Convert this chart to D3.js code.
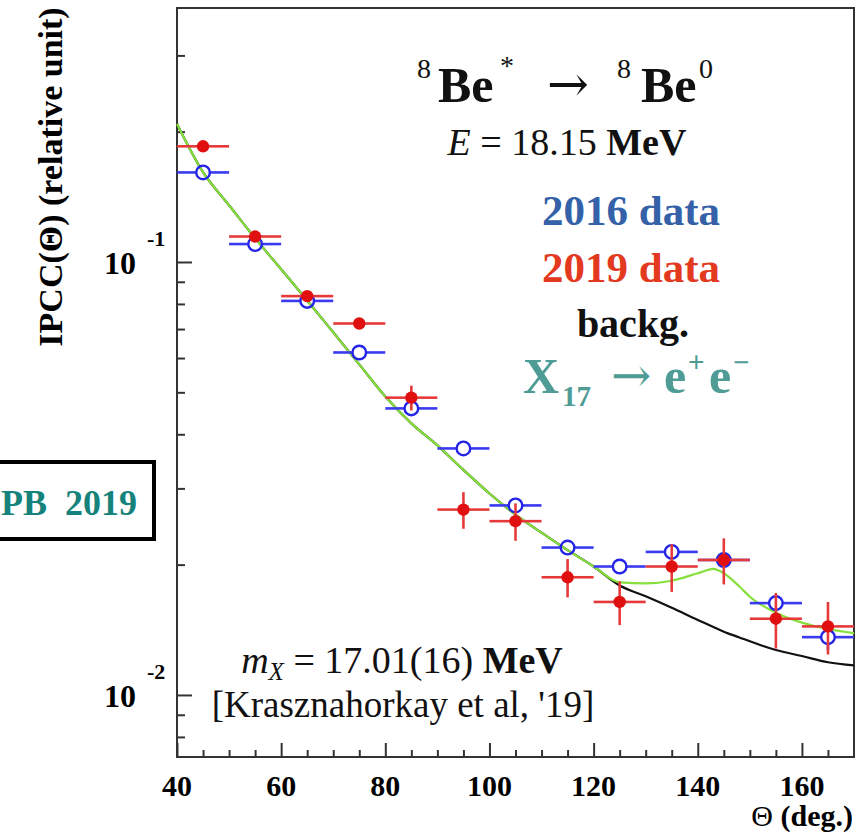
<!DOCTYPE html>
<html>
<head>
<meta charset="utf-8">
<script src="https://cdn.jsdelivr.net/npm/d3@7"></script>
<style>
  body { margin: 0; background: #fff; }
  svg { display: block; }
  text { font-family: "Liberation Serif", "Times New Roman", serif; }
</style>
</head>
<body>
<div id="chart"></div>
<script>
const theta = [45, 55, 65, 75, 85, 95, 105, 115, 125, 135, 145, 155, 165];
const binHalfWidth = 5;
const ipcc2016 = [0.161, 0.110, 0.0813, 0.0618, 0.0459, 0.0371, 0.0274, 0.0219, 0.0198, 0.0214, 0.0205, 0.0163, 0.0136];
const err2016  = [0.0025, 0.0018, 0.0013, 0.0010, 0.0008, 0.0006, 0.0005, 0.0005, 0.0004, 0.0006, 0.0006, 0.0007, 0.0009];
const ipcc2019 = [0.185, 0.1145, 0.0834, 0.0721, 0.0486, 0.0268, 0.0252, 0.0187, 0.0164, 0.0198, 0.0205, 0.0150, 0.0144];
const err2019  = [0.0022, 0.0023, 0.0017, 0.0014, 0.0032, 0.0026, 0.0025, 0.0019, 0.0019, 0.0025, 0.0025, 0.0022, 0.0020];

// fitted curves: background + X17 signal (green) and background only (black)
const curveTheta = [40, 45, 50, 55, 60, 65, 70, 75, 80, 85, 90, 95, 100, 105, 110, 115, 120,
                    125, 130, 135, 140, 143, 145, 148, 150, 155, 160, 165, 170];
const fitTotal = [0.2083, 0.1612, 0.1352, 0.1135, 0.0962, 0.0815, 0.0688, 0.0580, 0.0489, 0.0424,
                  0.0377, 0.0331, 0.0292, 0.0261, 0.0237, 0.0216, 0.0198,
                  0.0182, 0.0181, 0.01836, 0.0191, 0.01956, 0.0191, 0.0178, 0.01686, 0.01549, 0.01469, 0.0142, 0.0139];
const fitBackground = [0.2083, 0.1612, 0.1352, 0.1135, 0.0962, 0.0815, 0.0688, 0.0580, 0.0489, 0.0424,
                       0.0377, 0.0331, 0.0292, 0.0261, 0.0237, 0.0216, 0.0198,
                       0.0179, 0.0169, 0.0159, 0.0149, 0.01436, 0.0140, 0.01358, 0.0133, 0.0127, 0.0123, 0.0119, 0.0117];

const xMajorTicks = [40, 60, 80, 100, 120, 140, 160];
const xMinorTicks = [45, 50, 55, 65, 70, 75, 85, 90, 95, 105, 110, 115, 125, 130, 135, 145, 150, 155, 165];
const yDecades = [{ value: 0.1, exp: "-1" }, { value: 0.01, exp: "-2" }];

const red = "#e01010", redBar = "#e63a3a";
const blue = "#2424e6", blueBar = "#3a3af0";

const W = 864, H = 832;
const frame = { left: 177, right: 854, top: 8, bottom: 757 };

const svg = d3.select("#chart").append("svg")
    .attr("width", W).attr("height", H);

const x = d3.scaleLinear().domain([40, 170]).range([frame.left, frame.right]);
const y = d3.scaleLog().domain([0.00719, 0.386]).range([frame.bottom, frame.top]);

// ---- frame & axes ----
const axisColor = "#333";
svg.append("rect")
    .attr("x", frame.left).attr("y", frame.top)
    .attr("width", frame.right - frame.left).attr("height", frame.bottom - frame.top)
    .attr("fill", "none").attr("stroke", axisColor).attr("stroke-width", 2);

const yTicks = y.ticks();
const isMajorY = v => Math.abs(Math.log10(v) - Math.round(Math.log10(v))) < 1e-6;

function styleAxis(g) {
    g.select(".domain").remove();
    g.selectAll("line").attr("stroke", axisColor).attr("stroke-width", 2);
}
svg.append("g").attr("transform", `translate(${frame.left},0)`)
    .call(d3.axisRight(y).tickValues(yTicks.filter(v => !isMajorY(v))).tickSize(8).tickFormat(""))
    .call(styleAxis);
svg.append("g").attr("transform", `translate(${frame.left},0)`)
    .call(d3.axisRight(y).tickValues(yTicks.filter(isMajorY)).tickSize(15).tickFormat(""))
    .call(styleAxis);

svg.append("g").attr("transform", `translate(0,${frame.bottom})`)
    .call(d3.axisTop(x).tickValues(xMinorTicks).tickSize(7).tickFormat(""))
    .call(styleAxis);
svg.append("g").attr("transform", `translate(0,${frame.bottom})`)
    .call(d3.axisTop(x).tickValues(xMajorTicks).tickSize(14).tickFormat(""))
    .call(styleAxis);

// x tick labels
svg.append("g").selectAll("text")
    .data(xMajorTicks).enter().append("text")
    .attr("x", d => x(d)).attr("y", frame.bottom + 39)
    .attr("text-anchor", "middle")
    .attr("font-size", 30).attr("font-weight", "bold")
    .text(d => d);

// y tick labels: 10^-1, 10^-2
const yLab = svg.append("g").selectAll("g").data(yDecades).enter().append("g");
yLab.append("text")
    .attr("x", 136).attr("y", d => y(d.value) + 12)
    .attr("text-anchor", "end")
    .attr("font-size", 32).attr("font-weight", "bold")
    .text("10");
yLab.append("text")
    .attr("x", 147).attr("y", d => y(d.value) - 16)
    .attr("font-size", 22).attr("font-weight", "bold")
    .text(d => d.exp);

// axis titles
svg.append("text")
    .attr("transform", "translate(62,177) rotate(-90)")
    .attr("text-anchor", "middle")
    .attr("font-size", 34).attr("font-weight", "bold")
    .text("IPCC(Θ) (relative unit)");
const xTitle = svg.append("text")
    .attr("x", 853).attr("y", 826)
    .attr("text-anchor", "end")
    .attr("font-size", 30);
xTitle.append("tspan").text("Θ ");
xTitle.append("tspan").attr("font-weight", "bold").text("(deg.)");

// ---- curves ----
const line = (vals) => d3.line()
    .x((d, i) => x(curveTheta[i]))
    .y(d => y(d))
    .curve(d3.curveMonotoneX)(vals);

svg.append("path").attr("d", line(fitBackground))
    .attr("fill", "none").attr("stroke", "#111").attr("stroke-width", 2.2);
svg.append("path").attr("d", line(fitTotal))
    .attr("fill", "none").attr("stroke", "#86e03c").attr("stroke-width", 2.2);

// ---- data points ----
function drawSeries(vals, errs, barColor, markerColor, hollow) {
    const r = hollow ? 6.8 : 6.2;
    const pts = theta.map((t, i) => ({ t: t, v: vals[i], e: errs[i] }));
    const g = svg.append("g");
    const gap = hollow ? r : 0;
    // horizontal bars (bin width), with a gap for hollow markers
    g.selectAll(".hl").data(pts).enter().append("line")
        .attr("x1", d => x(d.t - binHalfWidth)).attr("x2", d => x(d.t) - gap)
        .attr("y1", d => y(d.v)).attr("y2", d => y(d.v))
        .attr("stroke", barColor).attr("stroke-width", 2.6);
    g.selectAll(".hr").data(pts).enter().append("line")
        .attr("x1", d => x(d.t) + gap).attr("x2", d => x(d.t + binHalfWidth))
        .attr("y1", d => y(d.v)).attr("y2", d => y(d.v))
        .attr("stroke", barColor).attr("stroke-width", 2.6);
    // vertical error bars
    g.selectAll(".vu").data(pts.filter(d => y(d.v) - y(d.v + d.e) > gap)).enter().append("line")
        .attr("x1", d => x(d.t)).attr("x2", d => x(d.t))
        .attr("y1", d => y(d.v + d.e)).attr("y2", d => y(d.v) - gap)
        .attr("stroke", barColor).attr("stroke-width", 2.6);
    g.selectAll(".vd").data(pts.filter(d => y(d.v - d.e) - y(d.v) > gap)).enter().append("line")
        .attr("x1", d => x(d.t)).attr("x2", d => x(d.t))
        .attr("y1", d => y(d.v) + gap).attr("y2", d => y(d.v - d.e))
        .attr("stroke", barColor).attr("stroke-width", 2.6);
    g.selectAll("circle").data(pts).enter().append("circle")
        .attr("cx", d => x(d.t)).attr("cy", d => y(d.v)).attr("r", r)
        .attr("fill", hollow ? "none" : markerColor)
        .attr("stroke", markerColor).attr("stroke-width", hollow ? 2.4 : 0);
}
drawSeries(ipcc2016, err2016, blueBar, blue, true);
drawSeries(ipcc2019, err2019, redBar, red, false);

// ---- annotations ----
function label(txt, px, py, size, opts) {
    opts = opts || {};
    const t = svg.append("text")
        .attr("x", px).attr("y", py)
        .attr("font-size", size)
        .attr("font-weight", opts.bold ? "bold" : "normal")
        .attr("font-style", opts.italic ? "italic" : "normal")
        .attr("fill", opts.color || "#111")
        .attr("text-anchor", opts.anchor || "start")
        .text(txt);
    if (opts.family) t.style("font-family", opts.family);
    return t;
}

// 8Be* -> 8Be0
label("8", 417, 78, 28);
label("Be", 438, 102, 50, { bold: true });
label("*", 500, 75, 28);
label("→", 547, 101, 50, { family: "DejaVu Serif" });
label("8", 617, 78, 28);
label("Be", 641, 102, 50, { bold: true });
label("0", 699, 78, 28);

// E = 18.15 MeV
const eLine = svg.append("text").attr("x", 567).attr("y", 155)
    .attr("text-anchor", "middle").attr("font-size", 38).attr("fill", "#111");
eLine.append("tspan").attr("font-style", "italic").text("E");
eLine.append("tspan").text(" = 18.15 ");
eLine.append("tspan").attr("font-weight", "bold").text("MeV");

label("2016 data", 631, 225, 43, { bold: true, color: "#3461a8", anchor: "middle" });
label("2019 data", 631, 282, 43, { bold: true, color: "#e2391f", anchor: "middle" });
label("backg.", 633, 337, 40, { bold: true, anchor: "middle" });

// X17 -> e+e-
const teal = "#4e9c95";
label("X", 523, 393, 50, { bold: true, color: teal });
label("17", 562, 406, 29, { bold: true, color: teal });
label("→", 611, 392, 48, { color: teal, family: "DejaVu Serif" });
label("e", 664, 393, 50, { bold: true, color: teal });
label("+", 688, 372, 29, { bold: true, color: teal });
label("e", 709, 393, 50, { bold: true, color: teal });
label("−", 733, 372, 29, { bold: true, color: teal });

// m_X = 17.01(16) MeV
const mLine = svg.append("text").attr("x", 402).attr("y", 673)
    .attr("text-anchor", "middle").attr("font-size", 38).attr("fill", "#111");
mLine.append("tspan").attr("font-style", "italic").text("m");
mLine.append("tspan").attr("font-style", "italic").attr("font-size", 25).attr("dy", 7).text("X");
mLine.append("tspan").attr("dy", -7).text(" = 17.01(16) ");
mLine.append("tspan").attr("font-weight", "bold").text("MeV");

label("[Krasznahorkay et al, '19]", 403, 717, 37, { anchor: "middle" });

// PB 2019 box at the left edge
svg.append("rect")
    .attr("x", -10).attr("y", 462).attr("width", 164).attr("height", 77)
    .attr("fill", "none").attr("stroke", "#000").attr("stroke-width", 4);
label("PB  2019", 1, 515, 36, { bold: true, color: "#15837b" })
    .style("white-space", "pre");
</script>
</body>
</html>
